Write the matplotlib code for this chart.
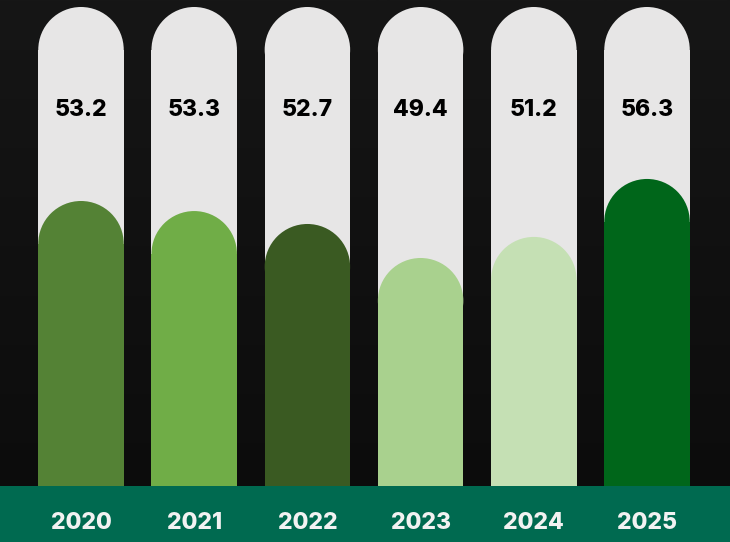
import matplotlib.pyplot as plt
import numpy as np
from matplotlib.patches import Rectangle, Ellipse

years = ['2020', '2021', '2022', '2023', '2024', '2025']
values = [53.2, 53.3, 52.7, 49.4, 51.2, 56.3]
# fill level of each track, percent of the full track height
fill_level = [59.5, 57.4, 54.7, 47.6, 52.0, 64.1]
colors = ['#548235', '#70ad47', '#3a5a22', '#a9d18e', '#c5e0b4', '#00661a']

track_color = '#e7e6e6'
band_color = '#006a50'
bar_w = 0.755

fig = plt.figure(figsize=(7.30, 5.42), dpi=100)

# dark background
bg = fig.add_axes([0, 0, 1, 1])
grad = np.linspace(0, 1, 256).reshape(-1, 1)
bg.imshow(grad, aspect='auto', cmap=plt.matplotlib.colors.LinearSegmentedColormap.from_list(
    'bg', ['#161616', '#0b0b0b']), extent=[0, 1, 0, 1])
bg.set_axis_off()

# bottom band with year labels
band_h = 56 / 542
band = fig.add_axes([0, 0, 1, band_h])
band.set_xlim(-0.7155, 5.733)
band.set_ylim(0, 1)
band.set_axis_off()
band.add_patch(Rectangle((-1, 0), 8, 1, color=band_color))
for i, yr in enumerate(years):
    band.text(i, 0.34, yr, ha='center', va='center', color='#f2f2f2',
              fontsize=16.5, fontweight='heavy', family='Inter')

ax = fig.add_axes([0, band_h, 1, 1 - band_h])
ax.set_xlim(-0.7155, 5.733)
ax.set_ylim(0, 101.46)
ax.set_axis_off()
ax.patch.set_alpha(0)

# half bar width expressed in y units so the caps are round
fig.canvas.draw()
px_x = ax.transData.transform((1, 0))[0] - ax.transData.transform((0, 0))[0]
px_y = ax.transData.transform((0, 1))[1] - ax.transData.transform((0, 0))[1]
r_y = (bar_w / 2) * px_x / px_y


def rounded_bar(x, h, color):
    ax.add_patch(Rectangle((x - bar_w / 2, 0), bar_w, h - r_y, color=color, lw=0))
    ax.add_patch(Ellipse((x, h - r_y), bar_w, 2 * r_y, color=color, lw=0))


for i in range(len(years)):
    rounded_bar(i, 100, track_color)
    rounded_bar(i, fill_level[i], colors[i])
    ax.text(i, 78.5, f'{values[i]:.1f}', ha='center', va='center', color='#000000',
            fontsize=16.5, fontweight='heavy', family='Inter')

fig.savefig('out.png', dpi=100)
